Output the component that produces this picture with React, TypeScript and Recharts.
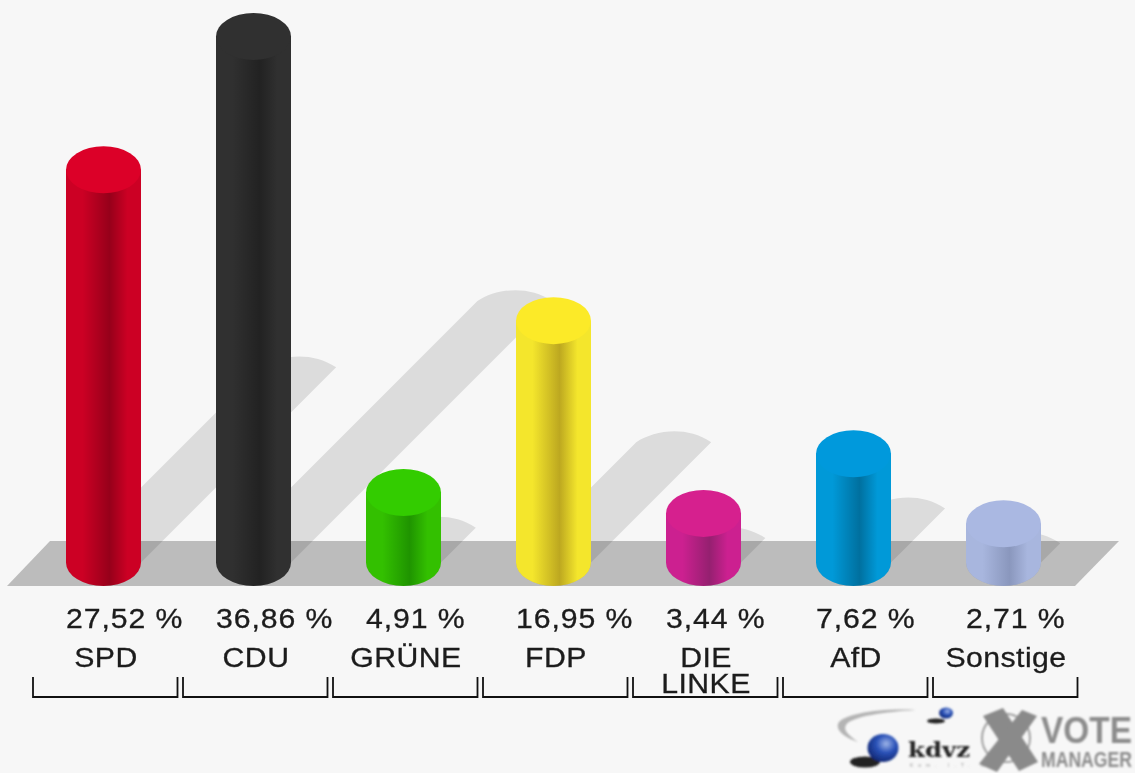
import React from "react";
import { BarChart, Bar, XAxis, YAxis } from "recharts";

const parties = ["SPD", "CDU", "GRÜNE", "FDP", "DIE LINKE", "AfD", "Sonstige"];
const shares = [27.52, 36.86, 4.91, 16.95, 3.44, 7.62, 2.71];
const capColors = ["#dc0028", "#303030", "#33cc00", "#fcea28", "#d6208e", "#0099dc", "#aab8e2"];
const sideColors = ["#cc0024", "#303030", "#33c000", "#f4e62c", "#cc2090", "#0099d8", "#a8b6de"];
const darkColors = ["#96001a", "#222222", "#1f9400", "#bda820", "#952070", "#00709f", "#8a97bd"];

const rows = parties.map((party, i) => ({ party, share: shares[i] }));

const W = 1135;
const H = 773;
const BAR = 75;
const RY = 23.5;
const FONT = "'Liberation Sans', Arial, sans-serif";
const INK = "#1c1c1c";

const labelFor = (name: string) => shares[parties.indexOf(name)].toFixed(2).replace(".", ",");

function ShadowShape(props: any) {
  const { x, y, width, height } = props;
  const base = y + height;
  const d = height * 0.497;
  const lx = x + d;
  const ty = base - d;
  const path = `M${x},${base} L${lx},${ty} C${lx + 18},${ty - 12} ${lx + 50},${ty - 17} ${lx + width},${ty} L${x + width},${base} A${width / 2},${RY} 0 0 1 ${x},${base} Z`;
  return <path d={path} fill="#000" fillOpacity={0.105} />;
}

function CylinderShape(props: any) {
  const { x, y, width, height, index } = props;
  const rx = width / 2;
  const base = y + height;
  const id = `side${index}`;
  return (
    <g>
      <defs>
        <linearGradient id={id} x1="0" y1="0" x2="1" y2="0">
          <stop offset="0" stopColor={sideColors[index]} />
          <stop offset="0.22" stopColor={sideColors[index]} />
          <stop offset="0.58" stopColor={darkColors[index]} />
          <stop offset="0.82" stopColor={sideColors[index]} />
          <stop offset="1" stopColor={sideColors[index]} />
        </linearGradient>
      </defs>
      <path
        d={`M${x},${y} L${x},${base} A${rx},${RY} 0 0 0 ${x + width},${base} L${x + width},${y} Z`}
        fill={`url(#${id})`}
      />
      <ellipse cx={x + rx} cy={y} rx={rx} ry={RY} fill={capColors[index]} />
    </g>
  );
}

function PartyTick(props: any) {
  const { x, y, payload } = props;
  const name: string = payload.value;
  const lines = name.split(" ");
  const top = y;
  const cx = x + 3;
  const common = {
    fontFamily: FONT,
    fontSize: 27,
    fill: INK,
    stroke: INK,
    strokeWidth: 0.3,
  };
  return (
    <g>
      <text
        transform={`translate(${x - 37} ${top + 65.5}) scale(1.12 1)`}
        {...common}
        letterSpacing={0.8}
        textAnchor="start"
      >
        {labelFor(name)} %
      </text>
      {lines.map((line, i) => (
        <text
          key={line}
          transform={`translate(${cx} ${top + 104 + i * 26}) scale(1.12 1)`}
          {...common}
          letterSpacing={0.4}
          textAnchor="middle"
        >
          {line}
        </text>
      ))}
      <path
        d={`M${x - 70},${top + 114.5} V${top + 134.5} H${x + 74.5} V${top + 114.5}`}
        fill="none"
        stroke="#111"
        strokeWidth={1.8}
      />
    </g>
  );
}

function Backdrop() {
  return (
    <svg width={W} height={H} style={{ position: "absolute", left: 0, top: 0 }}>
      <polygon points="7,586 50,541 1119,541 1075,586" fill="#bcbcbc" />
    </svg>
  );
}

function Logo() {
  return (
    <svg width={W} height={H} style={{ position: "absolute", left: 0, top: 0 }}>
      <defs>
        <radialGradient id="ball" cx="0.6" cy="0.35" r="0.7">
          <stop offset="0" stopColor="#9db4e8" />
          <stop offset="0.45" stopColor="#2a52b8" />
          <stop offset="1" stopColor="#10246e" />
        </radialGradient>
        <filter id="soft" x="-10%" y="-10%" width="120%" height="120%">
          <feGaussianBlur stdDeviation="0.9" />
        </filter>
      </defs>
      <g filter="url(#soft)">
        <path d="M916,710 C880,708 842,714 838,724 C836,731 846,738 858,742 C848,735 843,730 846,725 C852,716 885,712 916,710 Z" fill="#b4b4b4" />
        <ellipse cx="936" cy="721" rx="9" ry="2.5" fill="#222" />
        <ellipse cx="946" cy="713" rx="7" ry="5.5" fill="url(#ball)" />
        <ellipse cx="865" cy="762" rx="15" ry="5.5" fill="#222" />
        <ellipse cx="883" cy="748" rx="15.5" ry="14" fill="url(#ball)" />
        <text x="908" y="757" fontFamily="'DejaVu Serif', serif" fontWeight="bold" fontSize="21" fill="#222" textLength={62} lengthAdjust="spacingAndGlyphs">kdvz</text>
        <text x="910" y="767" fontFamily={FONT} fontSize="5" fill="#999" letterSpacing="5">Kom. I.T. Nr.</text>
        <circle cx="1006" cy="738" r="24" fill="none" stroke="#a0a0a0" strokeWidth="2" />
        <path d="M983,716 L1003,708 L1038,762 L1019,771 Z" fill="#8a8a8a" />
        <path d="M1022,710 L1037,716 L997,772 L979,764 Z" fill="#8a8a8a" />
        <text x="1041" y="743" fontFamily={FONT} fontWeight="bold" fontSize="37" fill="#8c8c8c" textLength={91} lengthAdjust="spacingAndGlyphs">VOTE</text>
        <text x="1041" y="767" fontFamily={FONT} fontWeight="bold" fontSize="22" fill="#8c8c8c" textLength={91} lengthAdjust="spacingAndGlyphs">MANAGER</text>
      </g>
    </svg>
  );
}

export default function App() {
  return (
    <div
      style={{
        position: "fixed",
        left: 0,
        top: 0,
        width: W,
        height: H,
        overflow: "hidden",
        background: "#f7f7f7",
        filter: "blur(0.45px)",
      }}
    >
      <Backdrop />
      <div style={{ position: "absolute", left: 0, top: 0 }}>
        <BarChart
          width={W}
          height={H}
          data={rows}
          margin={{ top: 6, right: 57, bottom: 0, left: 28 }}
          barSize={BAR}
          barGap={-BAR}
        >
          <YAxis hide domain={[0, 39]} />
          <XAxis
            dataKey="party"
            height={210.5}
            interval={0}
            axisLine={false}
            tickLine={false}
            tickSize={0}
            tickMargin={0}
            tick={<PartyTick />}
          />
          <Bar dataKey="share" isAnimationActive={false} shape={<ShadowShape />} />
          <Bar dataKey="share" isAnimationActive={false} shape={<CylinderShape />} />
        </BarChart>
      </div>
      <Logo />
    </div>
  );
}
